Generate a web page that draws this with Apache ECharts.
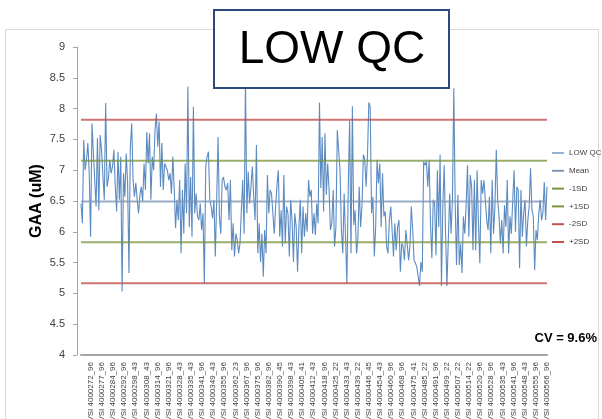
<!DOCTYPE html>
<html><head><meta charset="utf-8">
<script src="https://cdn.jsdelivr.net/npm/echarts@6/dist/echarts.min.js"></script>
<style>html,body{margin:0;padding:0;background:#fff}#c{width:602px;height:419px}</style>
</head><body><div id="c"></div>
<script>
const lowQC = [
6.46,6.14,7.49,7.00,7.17,7.44,6.95,5.92,7.76,7.79,
6.84,6.41,7.52,6.35,7.57,7.33,6.90,6.52,8.09,6.73,
6.87,7.17,6.95,7.06,7.33,6.73,6.33,7.30,6.52,7.22,
5.03,6.95,6.57,7.27,6.80,5.33,7.38,7.76,6.84,6.57,
6.79,6.52,6.30,6.60,6.73,6.49,7.11,6.68,7.62,7.11,
7.60,6.52,7.22,7.00,7.65,7.92,7.38,7.79,6.73,7.44,
6.68,7.11,7.14,7.00,6.84,6.95,6.62,7.22,6.70,6.06,
6.52,6.19,6.84,5.65,6.68,5.97,7.11,6.30,8.36,6.08,
6.89,5.92,8.03,6.30,6.62,6.25,6.19,6.46,6.03,6.30,
5.16,7.06,7.22,7.30,6.52,6.40,6.22,6.52,5.60,6.52,
7.54,6.25,5.97,6.84,6.89,6.73,6.68,6.79,6.19,6.84,
5.70,
6.14,5.60,5.97,5.87,5.65,5.81,6.35,6.84,5.97,8.45,
6.30,6.98,6.46,6.73,7.06,6.57,6.19,7.41,5.65,6.14,
5.51,5.97,5.27,6.03,5.65,6.92,6.30,6.68,6.62,6.30,
5.97,6.41,6.76,7.00,5.92,6.35,5.76,6.92,5.81,6.41,
6.30,5.60,6.52,6.19,5.51,6.30,6.08,5.35,6.08,6.52,
5.65,6.41,5.92,6.30,6.00,6.84,6.57,6.68,5.97,6.30,
5.95,6.46,6.14,8.10,6.71,7.54,6.33,7.60,6.60,7.11,
6.68,6.03,6.14,6.68,5.76,6.08,7.65,7.65,7.00,6.03,
5.65,6.62,5.92,5.16,6.73,7.81,5.65,8.04,6.11,6.35,
5.65,5.87,6.73,6.08,6.41,7.25,7.19,6.73,7.22,8.10,
8.03,6.30,6.57,5.60,6.08,7.17,6.79,7.11,6.08,6.95,
6.25,6.33,5.76,5.65,6.19,6.41,
6.03,5.60,6.14,5.70,6.08,6.19,5.35,5.81,5.76,5.54,
6.03,5.81,5.54,5.76,6.41,6.03,5.54,5.49,5.43,5.46,
5.12,5.51,5.35,7.14,7.08,7.14,6.73,7.17,6.14,5.57,
6.52,6.46,5.62,7.00,6.08,7.25,5.12,6.41,7.08,5.97,
5.12,5.87,6.62,5.97,6.52,8.33,6.46,5.46,6.60,5.46,
5.81,5.33,6.25,5.97,6.43,7.08,5.92,6.92,6.73,5.70,
6.84,5.70,7.00,6.14,5.49,6.84,6.62,6.84,6.52,6.19,
6.03,6.57,5.65,6.84,5.97,6.41,7.33,6.52,6.25,5.81,
6.19,5.65,6.43,6.08,6.84,5.65,6.25,5.97,6.52,7.00,
6.00,6.73,6.68,5.41,6.68,5.92,6.30,6.52,5.76,6.19,
6.41,7.03,6.35,6.25,5.38,6.03,5.87,6.30,6.52,6.19,
6.30,6.81,6.19,6.73
];
// reference lines
const meanValue = 6.49;
const minus1SD = 5.83, plus1SD = 7.155;
const minus2SD = 5.165, plus2SD = 7.82;
// tick labels shown on the category axis
const tickLabels = ['VSI 4000272_96','VSI 4000277_96','VSI 4000284_96','VSI 4000292_96','VSI 4000298_43','VSI 4000308_43','VSI 4000314_96','VSI 4000321_96','VSI 4000328_43','VSI 4000335_43','VSI 4000341_96','VSI 4000349_43','VSI 4000355_96','VSI 4000362_23','VSI 4000367_96','VSI 4000375_96','VSI 4000382_96','VSI 4000390_45','VSI 4000398_43','VSI 4000405_41','VSI 4000412_43','VSI 4000418_96','VSI 4000425_22','VSI 4000433_43','VSI 4000439_22','VSI 4000446_45','VSI 4000454_43','VSI 4000460_96','VSI 4000468_96','VSI 4000475_41','VSI 4000485_22','VSI 4000491_96','VSI 4000499_22','VSI 4000507_22','VSI 4000514_22','VSI 4000520_96','VSI 4000528_96','VSI 4000535_43','VSI 4000541_96','VSI 4000548_43','VSI 4000555_96','VSI 4000566_96'];
const yTicks = {min: 4, max: 9, interval: 0.5};

const N = lowQC.length;
const cats = lowQC.map((_, i) => String(i));
const labelMap = new Map();
const first = 7;
tickLabels.forEach((t, j) => labelMap.set(Math.round(first + j * (N - 1 - first) / (tickLabels.length - 1)), t));

const FONT = 'Liberation Sans, Arial, sans-serif';
const chart = echarts.init(document.getElementById('c'), null, {renderer: 'canvas'});
function refSeries(name, v, color, op) {
  return {name, type: 'line', data: [[0, v], [N - 1, v]], symbol: 'none', silent: true,
    lineStyle: {color, width: 2, opacity: op}, itemStyle: {color}, z: 3};
}
chart.setOption({
  animation: false,
  backgroundColor: '#fff',
  grid: {left: 81, right: 55, top: 47, bottom: 64, containLabel: false, outerBoundsMode: 'none'},
  legend: {
    orient: 'vertical', left: 552, top: 149, padding: 0, itemGap: 9.8, itemWidth: 12, itemHeight: 2, icon: 'rect',
    textStyle: {fontSize: 8, color: '#404040', fontFamily: FONT},
    data: ['LOW QC', 'Mean', '-1SD', '+1SD', '-2SD', '+2SD']
  },
  xAxis: {
    type: 'category', data: cats, boundaryGap: false,
    axisLine: {lineStyle: {color: '#a6a6a6', width: 2}},
    axisTick: {show: false},
    axisLabel: {rotate: 90, fontSize: 8, color: '#404040', fontFamily: FONT, margin: 7,
      interval: (i) => labelMap.has(i), formatter: (v, i) => labelMap.get(Number(v)) || ''},
    splitLine: {show: false}
  },
  yAxis: {
    type: 'value', min: yTicks.min, max: yTicks.max, interval: yTicks.interval, offset: 4,
    name: 'GAA (uM)', nameLocation: 'middle', nameGap: 32, nameRotate: 90, nameMoveOverlap: false,
    nameTextStyle: {fontSize: 16, fontWeight: 'bold', color: '#000', fontFamily: FONT},
    axisLine: {show: true, lineStyle: {color: '#a6a6a6'}},
    axisTick: {show: true, length: 4, lineStyle: {color: '#a6a6a6'}},
    axisLabel: {fontSize: 11, color: '#404040', fontFamily: FONT, margin: 12},
    splitLine: {show: false}
  },
  series: [
    {name: 'LOW QC', type: 'line', data: lowQC, symbol: 'none',
      lineStyle: {color: '#4a7ebb', width: 1.1, opacity: 0.9}, itemStyle: {color: '#95b3d7'}, z: 2},
    refSeries('Mean', meanValue, '#7f97b5', 0.8),
    refSeries('-1SD', minus1SD, '#77933c', 0.75),
    refSeries('+1SD', plus1SD, '#77933c', 0.75),
    refSeries('-2SD', minus2SD, '#c0504d', 0.8),
    refSeries('+2SD', plus2SD, '#c0504d', 0.8)
  ],
  graphic: [
    {type: 'rect', shape: {x: 5.5, y: 29.5, width: 593, height: 400}, style: {fill: 'none', stroke: '#d9d9d9', lineWidth: 1}, silent: true, z: -1},
    {type: 'text', x: 597, y: 338, style: {text: 'CV = 9.6%', font: 'bold 13px ' + FONT, fill: '#000', align: 'right', verticalAlign: 'middle'}},
    {type: 'rect', shape: {x: 214, y: 10, width: 235, height: 78}, style: {fill: '#fff', stroke: '#2c4a7e', lineWidth: 2}, z: 100},
    {type: 'text', x: 332, y: 50, style: {text: 'LOW QC', font: '46px ' + FONT, fill: '#000', align: 'center', verticalAlign: 'middle'}, z: 101}
  ]
});
</script></body></html>
